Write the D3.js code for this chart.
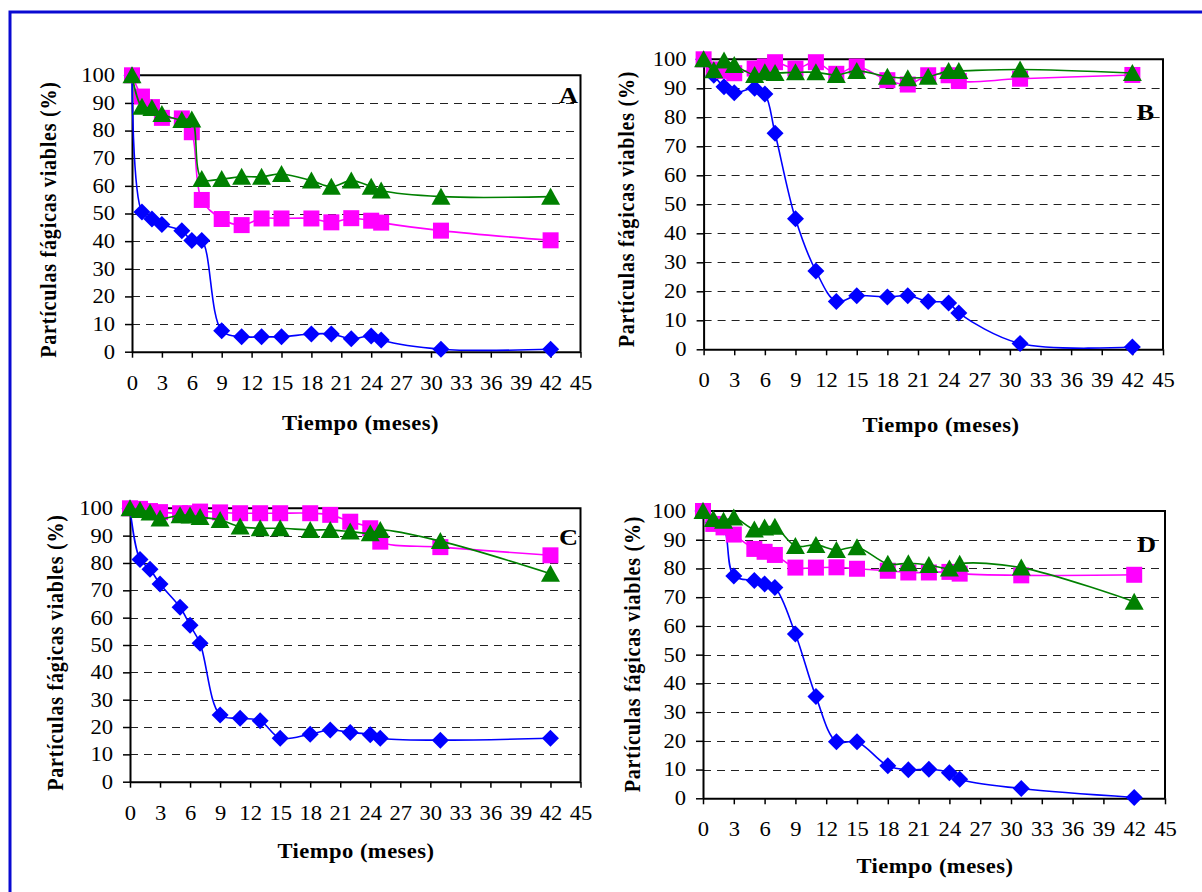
<!DOCTYPE html>
<html>
<head>
<meta charset="utf-8">
<script src="https://cdn.jsdelivr.net/npm/d3@7"></script>
<style>
  body { margin: 0; background: #fff; }
  svg { display: block; }
  svg text { font-family: "Liberation Serif", "DejaVu Serif", "Times New Roman", serif; }
</style>
</head>
<body>
<div id="chart"></div>
<script>
// sampling times (months), shared by all panels
var months = [0, 1, 2, 3, 5, 6, 7, 9, 11, 13, 15, 18, 20, 22, 24, 25, 31, 42];
var xTicks = d3.range(0, 46, 3);
var yTicks = d3.range(0, 101, 10);

// panel A
var blueA  = [100, 50.5, 48, 46, 43.8, 40.2, 40.2, 7.6, 5.4, 5.4, 5.4, 6.4, 6.4, 4.7, 5.7, 4.2, 0.9, 0.9];
var magA   = [100, 92.3, 88.5, 84.6, 84.4, 79.4, 54.9, 48, 45.8, 48.2, 48.2, 48.2, 46.8, 48.3, 47.4, 46.7, 43.8, 40.3];
var greenA = [100, 88.6, 88.2, 86, 83.8, 84, 62.5, 62.5, 63.3, 63.3, 64.3, 61.9, 59.7, 61.9, 59.7, 58.3, 56.1, 56.1];

// panel B
var blueB  = [100, 94.5, 90.5, 88.5, 90, 88, 74.5, 45, 27, 16.5, 18.5, 18, 18.5, 16.5, 16, 12.5, 2, 0.8];
var magB   = [100, 96.5, 96, 95.2, 96.8, 97.5, 99, 96.8, 99, 95, 97.5, 92.8, 91.3, 94.5, 94.5, 92.5, 93.3, 94.6];
var greenB = [100, 96.2, 99.6, 98, 94.6, 95.5, 95.3, 95.5, 95.5, 94.6, 96, 94, 93.5, 94, 96, 96, 96.5, 95.3];

// panel C
var blueC  = [100, 81.3, 77.7, 72.3, 63.8, 57.2, 50.6, 24.4, 23.2, 22.3, 15.9, 17.4, 18.9, 18, 17.2, 15.9, 15.2, 15.9];
var magC   = [100, 99.8, 99, 98.6, 98.2, 98.2, 98.8, 98.5, 98.2, 98.2, 98.2, 98.2, 97.6, 95.1, 92.7, 87.8, 85.8, 82.8];
var greenC = [100, 99.4, 98.5, 96.3, 97.5, 97.4, 96.8, 95.7, 93.3, 92.7, 92.7, 92.1, 92.1, 91.5, 90.9, 92.1, 88, 76.1];

// panel D
var blueD  = [100, 96, 94.5, 77.4, 75.8, 74.6, 73.4, 57.2, 35.4, 19.7, 19.7, 11.3, 9.9, 10.1, 8.9, 6.6, 3.4, 0.3];
var magD   = [100, 95.5, 94.3, 91.8, 86.8, 85.8, 84.7, 80.3, 80.3, 80.4, 79.9, 79.2, 78.6, 78.6, 78.8, 78.2, 77.6, 77.8];
var greenD = [100, 97.2, 96.6, 97.7, 93.6, 94.3, 94.5, 87.8, 88.2, 86.4, 87.4, 81.6, 81.8, 81.2, 80, 81.6, 80.3, 68.4];

var panelLabels = ["A", "B", "C", "D"];
var yTitle = "Partículas fágicas viables (%)";
var xTitle = "Tiempo (meses)";

var blue = "#0000ff", magenta = "#ff00ff", green = "#008000";
var sx = 1.13; // the original text is a bit stretched sideways

var svg = d3.select("#chart").append("svg")
  .attr("width", 1202)
  .attr("height", 892);

// blue frame (top + left edges only are visible)
svg.append("path")
  .attr("d", "M10,892V12H1202")
  .attr("fill", "none")
  .attr("stroke", "#0a0ad2")
  .attr("stroke-width", 3);

// where each panel sits on the page
var panels = [
  {blue: blueA, mag: magA, green: greenA, x0: 132, x1: 580.5, top: 75.3, bot: 351.7,
   ytX: 48, ytY: 219.5, xtX: 360.5, xtY: 430, lx: 578, ly: 103},
  {blue: blueB, mag: magB, green: greenB, x0: 703.6, x1: 1163, top: 59.3, bot: 349.3,
   ytX: 626, ytY: 209, xtX: 941, xtY: 431.5, lx: 1154, ly: 120},
  {blue: blueC, mag: magC, green: greenC, x0: 130, x1: 580.5, top: 508.3, bot: 781.7,
   ytX: 55.5, ytY: 652.5, xtX: 356, xtY: 858, lx: 578, ly: 545},
  {blue: blueD, mag: magD, green: greenD, x0: 703, x1: 1165, top: 511, bot: 798.3,
   ytX: 632.5, ytY: 654, xtX: 935, xtY: 873, lx: 1156, ly: 552}
];

var shapes = {
  diamond: "M0,-8.5L8.5,0L0,8.5L-8.5,0Z",
  square: "M-8,-8H8V8H-8Z",
  triangle: "M0,-9L9.5,8L-9.5,8Z"
};

panels.forEach(function(p, k) {
  var x = d3.scaleLinear().domain([0, 45]).range([p.x0, p.x1]);
  var y = d3.scaleLinear().domain([0, 100]).range([p.bot, p.top]);
  var g = svg.append("g");

  // dashed gridlines
  g.selectAll(".grid")
    .data(yTicks.filter(function(v) { return v > 0 && v < 100; }))
    .enter()
    .append("line")
    .attr("x1", p.x0)
    .attr("x2", p.x1)
    .attr("y1", function(d) { return Math.round(y(d)) + 0.5; })
    .attr("y2", function(d) { return Math.round(y(d)) + 0.5; })
    .attr("stroke", "#222")
    .attr("stroke-width", 1)
    .attr("stroke-dasharray", "8,6");

  // top and right border of the plot area
  g.append("path")
    .attr("d", "M" + p.x0 + "," + y(100) + "H" + p.x1 + "V" + p.bot)
    .attr("fill", "none")
    .attr("stroke", "#000")
    .attr("stroke-width", 2);

  // x axis
  var gx = g.append("g")
    .attr("transform", "translate(0," + p.bot + ")")
    .call(d3.axisBottom(x).tickValues(xTicks).tickSize(6).tickPadding(18).tickSizeOuter(0));
  gx.attr("font-family", null).attr("font-size", 20);
  gx.select(".domain").attr("stroke-width", 2);
  gx.selectAll(".tick line").attr("stroke-width", 1.5);
  gx.selectAll("text").attr("transform", "scale(" + sx + ",1)");

  // y axis
  var gy = g.append("g")
    .attr("transform", "translate(" + p.x0 + ",0)")
    .call(d3.axisLeft(y).tickValues(yTicks).tickSize(7).tickPadding(8).tickSizeOuter(0));
  gy.attr("font-family", null).attr("font-size", 20);
  gy.select(".domain").attr("stroke-width", 2);
  gy.selectAll(".tick line").attr("stroke-width", 1.5);
  gy.selectAll("text").attr("transform", "scale(" + sx + ",1)");

  // axis titles
  g.append("text")
    .attr("transform", "translate(" + p.ytX + "," + p.ytY + ") scale(" + sx + ",1) rotate(-90)")
    .attr("text-anchor", "middle")
    .attr("dy", "0.35em")
    .attr("font-weight", "bold")
    .attr("font-size", 20)
    .attr("letter-spacing", 0.8)
    .text(yTitle);

  g.append("text")
    .attr("transform", "translate(" + p.xtX + "," + p.xtY + ") scale(" + sx + ",1)")
    .attr("text-anchor", "middle")
    .attr("font-weight", "bold")
    .attr("font-size", 20)
    .attr("letter-spacing", 0.4)
    .text(xTitle);

  // panel letter
  g.append("text")
    .attr("transform", "translate(" + p.lx + "," + p.ly + ") scale(1.1,1)")
    .attr("text-anchor", "end")
    .attr("font-weight", "bold")
    .attr("font-size", 24)
    .text(panelLabels[k]);

  // series: smooth lines with markers
  var line = d3.line()
    .x(function(d, i) { return x(months[i]); })
    .y(function(d) { return y(d); })
    .curve(d3.curveCatmullRom);

  var series = [
    {values: p.blue, color: blue, shape: "diamond"},
    {values: p.mag, color: magenta, shape: "square"},
    {values: p.green, color: green, shape: "triangle"}
  ];

  series.forEach(function(s) {
    g.append("path")
      .datum(s.values)
      .attr("d", line)
      .attr("fill", "none")
      .attr("stroke", s.color)
      .attr("stroke-width", 1.6);

    g.append("g").selectAll("path")
      .data(s.values)
      .enter()
      .append("path")
      .attr("d", shapes[s.shape])
      .attr("transform", function(d, i) { return "translate(" + x(months[i]) + "," + y(d) + ")"; })
      .attr("fill", s.color);
  });
});
</script>
</body>
</html>
